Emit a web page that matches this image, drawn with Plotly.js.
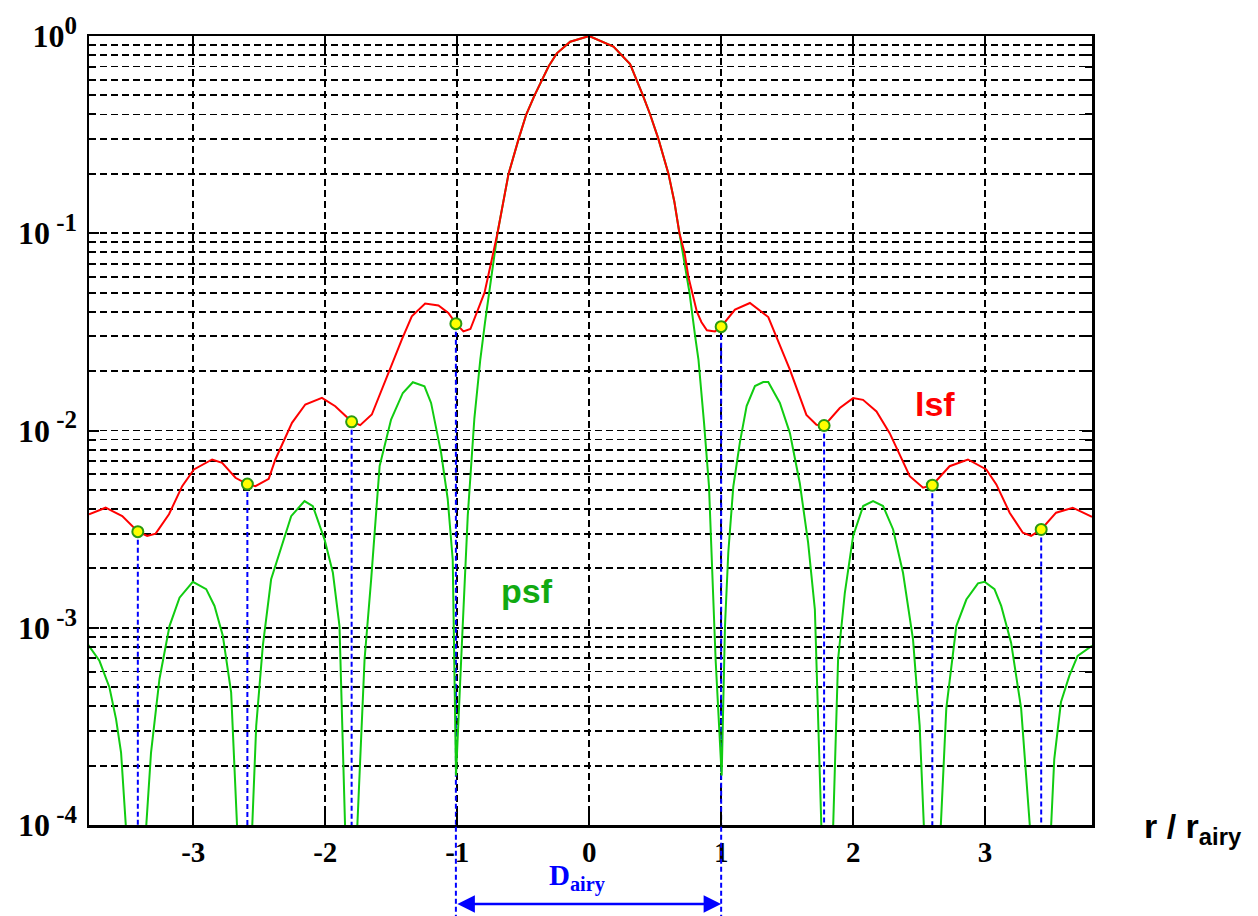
<!DOCTYPE html>
<html>
<head>
<meta charset="utf-8">
<script src="https://cdn.plot.ly/plotly-3.0.1.min.js"></script>
<style>html,body{margin:0;padding:0;background:#fff;}#chart{width:1258px;height:916px;}</style>
</head>
<body>
<div id="chart"></div>
<script>
// ---- data ----
const lsfX = [-3.79,-3.664,-3.538,-3.419,-3.349,-3.285,-3.184,-3.084,-2.995,-2.857,-2.781,-2.680,-2.592,-2.529,-2.428,-2.378,-2.252,-2.151,-2.025,-1.924,-1.798,-1.735,-1.647,-1.521,-1.420,-1.344,-1.243,-1.142,-1.067,-1.009,-0.953,-0.900,-0.845,-0.793,-0.745,-0.695,-0.650,-0.611,-0.535,-0.477,-0.414,-0.359,-0.308,-0.245,-0.144,0,0.184,0.31,0.361,0.407,0.462,0.525,0.601,0.645,0.684,0.722,0.752,0.783,0.816,0.850,0.892,0.953,1.000,1.105,1.218,1.357,1.432,1.520,1.646,1.722,1.783,1.899,2.000,2.075,2.177,2.277,2.429,2.530,2.600,2.731,2.870,3.009,3.085,3.186,3.286,3.349,3.425,3.538,3.664,3.81];
const lsfY = [0.00376,0.00406,0.00368,0.00307,0.00292,0.0030,0.00376,0.00522,0.00635,0.00713,0.00686,0.00576,0.00535,0.00522,0.00569,0.00713,0.01094,0.01355,0.01464,0.01328,0.01107,0.01064,0.01205,0.0196,0.0289,0.0379,0.0440,0.0430,0.0394,0.0348,0.0318,0.0327,0.0405,0.050,0.070,0.100,0.145,0.200,0.300,0.400,0.500,0.600,0.700,0.817,0.936,1.0,0.883,0.72,0.60,0.50,0.40,0.30,0.20,0.145,0.100,0.080,0.060,0.050,0.040,0.0355,0.0322,0.0318,0.0336,0.0410,0.0443,0.0376,0.0283,0.0204,0.0120,0.0107,0.0106,0.0130,0.0146,0.0143,0.0125,0.0097,0.00587,0.00513,0.00528,0.00659,0.00713,0.00635,0.00533,0.00383,0.00303,0.00292,0.00315,0.00383,0.00406,0.00365];

const psfX = [-3.80,-3.711,-3.635,-3.585,-3.547,-3.509,-3.43,-3.358,-3.32,-3.256,-3.18,-3.104,-3.003,-2.902,-2.839,-2.776,-2.713,-2.667,-2.61,-2.554,-2.523,-2.473,-2.410,-2.346,-2.258,-2.157,-2.094,-2.005,-1.942,-1.892,-1.849,-1.80,-1.758,-1.702,-1.652,-1.588,-1.501,-1.412,-1.336,-1.248,-1.198,-1.122,-1.072,-1.034,-1.009,-0.97,-0.92,-0.87,-0.825,-0.79,-0.758,-0.725,-0.695,-0.650,-0.611,-0.535,-0.477,-0.414,-0.359,-0.308,-0.245,-0.144,0,0.184,0.31,0.361,0.407,0.462,0.525,0.601,0.645,0.684,0.72,0.760,0.803,0.828,0.87,0.908,0.958,1.004,1.029,1.054,1.092,1.142,1.193,1.256,1.319,1.357,1.445,1.521,1.596,1.659,1.71,1.735,1.76,1.80,1.848,1.886,1.937,2.0,2.076,2.151,2.227,2.303,2.378,2.454,2.504,2.537,2.60,2.663,2.706,2.782,2.858,2.946,2.996,3.071,3.122,3.197,3.273,3.341,3.42,3.499,3.524,3.575,3.638,3.701,3.81];
const psfY = [8.25e-4,6.8e-4,4.98e-4,3.44e-4,2.33e-4,9.5e-5,1e-7,9.5e-5,2.33e-4,5.5e-4,1.02e-3,1.42e-3,1.71e-3,1.57e-3,1.29e-3,9.1e-4,4.7e-4,9.5e-5,1e-7,9.5e-5,3.18e-4,8.1e-4,1.76e-3,2.4e-3,3.68e-3,4.39e-3,4.14e-3,2.8e-3,1.9e-3,1.02e-3,9.5e-5,1e-7,9.5e-5,6.9e-4,1.76e-3,6.6e-3,0.01137,0.0155,0.01757,0.01676,0.0138,7.7e-3,4.5e-3,2.22e-3,1.78e-4,6.9e-4,3.7e-3,0.0115,0.0229,0.035,0.05,0.075,0.100,0.145,0.200,0.300,0.400,0.500,0.600,0.700,0.817,0.936,1.0,0.883,0.72,0.60,0.50,0.40,0.30,0.20,0.145,0.100,0.072,0.05,0.03,0.0229,0.011,5.2e-3,6.9e-4,1.78e-4,1.02e-3,2.4e-3,5.2e-3,8.7e-3,0.0133,0.0168,0.0176,0.0176,0.0138,9.7e-3,5.4e-3,2.7e-3,1.24e-3,3.9e-4,9.5e-5,1e-7,9.5e-5,6.9e-4,1.5e-3,2.92e-3,4.14e-3,4.39e-3,4.14e-3,3.15e-3,1.9e-3,8.7e-4,3.2e-4,9.5e-5,1e-7,9.5e-5,3.9e-4,1.02e-3,1.39e-3,1.68e-3,1.71e-3,1.57e-3,1.29e-3,8.4e-4,3.9e-4,9.5e-5,1e-7,9.5e-5,2.16e-4,4.2e-4,5.7e-4,7.2e-4,8.1e-4];

// lsf minima (yellow dots)
const minX = [-3.42,-2.59,-1.80,-1.01,1.0,1.78,2.60,3.425];
const minY = [0.00307,0.00535,0.01107,0.0348,0.0336,0.0106,0.00528,0.00315];

const xTickVals = [-3,-2,-1,0,1,2,3];
const xTickText = ['-3','-2','-1','0','1','2','3'];
const yTickVals = [1e-4,1e-3,1e-2,1e-1,1];
const yExponents = ['\u00a0-4','\u00a0-3','\u00a0-2','\u00a0-1','0'];
const yFloor = 1e-4;

// ---- build traces ----
const yTickText = yExponents.map(e => '10<sup><span style="font-size:25px">' + e + '</span></sup>');
const dropX = [], dropY = [];
minX.forEach((x,i)=>{ dropX.push(x,x,null); dropY.push(minY[i],yFloor,null); });

const serif = 'Liberation Serif, Times New Roman, serif';
const sans = 'Liberation Sans, Arial, Helvetica, sans-serif';
const gridDash = '7px,4px';
const blueDash = {color:'#0000ff', width:2, dash:'5px,3px'};

const traces = [
  {x: dropX, y: dropY, mode:'lines', line:blueDash, hoverinfo:'skip'},
  {x: psfX, y: psfY, mode:'lines', name:'psf', line:{color:'#11cc11', width:2}},
  {x: lsfX, y: lsfY, mode:'lines', name:'lsf', line:{color:'#ff0000', width:2}},
  {x: minX, y: minY, mode:'markers', marker:{color:'#ffff00', size:11, line:{color:'#2a9a10', width:2}}}
];

const shapes = [3,4].map(i=>({type:'line', xref:'x', yref:'paper', x0:minX[i], x1:minX[i], y0:-0.12, y1:0, line:blueDash}));

const layout = {
  width:1258, height:916,
  margin:{l:89, r:166, t:36, b:91},
  paper_bgcolor:'#ffffff', plot_bgcolor:'#ffffff',
  showlegend:false,
  font:{family:serif, color:'#000'},
  xaxis:{
    range:[-3.79,3.81], tickvals:xTickVals, ticktext:xTickText,
    showgrid:true, gridcolor:'#000', gridwidth:1.8, griddash:gridDash,
    zeroline:false, showline:true, linecolor:'#000', linewidth:2.5, mirror:'ticks',
    ticks:'inside', ticklen:12, tickwidth:2, tickcolor:'#000',
    ticklabelstandoff:0,
    tickfont:{family:serif, size:29, weight:'bold', color:'#000'}
  },
  yaxis:{
    type:'log', range:[-4,0], tickvals:yTickVals, ticktext:yTickText,
    showgrid:true, gridcolor:'#000', gridwidth:1.8, griddash:gridDash,
    zeroline:false, showline:true, linecolor:'#000', linewidth:2.5, mirror:'ticks',
    ticks:'inside', ticklen:10, tickwidth:2, tickcolor:'#000',
    ticklabelstandoff:3,
    tickfont:{family:serif, size:32, weight:'bold', color:'#000'},
    minor:{dtick:'D1', showgrid:true, gridcolor:'#000', gridwidth:1.8, griddash:gridDash, ticks:'inside', ticklen:7, tickcolor:'#000'}
  },
  shapes: shapes,
  annotations:[
    {text:'r / r<sub>airy</sub>', xref:'paper', yref:'paper', x:1.05, y:-0.005, xanchor:'left', yanchor:'middle', showarrow:false,
     font:{family:sans, size:34, weight:'bold', color:'#000'}},
    {text:'lsf', xref:'x', yref:'y', x:2.62, y:-1.868, showarrow:false, font:{family:sans, size:34, weight:'bold', color:'#ff0000'}},
    {text:'psf', xref:'x', yref:'y', x:-0.47, y:-2.815, showarrow:false, font:{family:sans, size:34, weight:'bold', color:'#11aa11'}},
    {text:'D<sub>airy</sub>', xref:'x', yref:'paper', x:0, xshift:-12, y:-0.092, showarrow:false,
     font:{family:serif, size:29, weight:'bold', color:'#0000ff'}},
    {text:'', xref:'x', yref:'paper', x:minX[4], y:-0.100, axref:'x', ax:minX[3], ayref:'pixel', ay:0,
     showarrow:true, arrowside:'end+start', arrowhead:2, startarrowhead:2, arrowsize:1.4, startarrowsize:1.4, arrowwidth:2.5, arrowcolor:'#0000ff', standoff:0, startstandoff:0}
  ]
};

Plotly.newPlot('chart', traces, layout, {staticPlot:true, displayModeBar:false});
</script>
</body>
</html>
